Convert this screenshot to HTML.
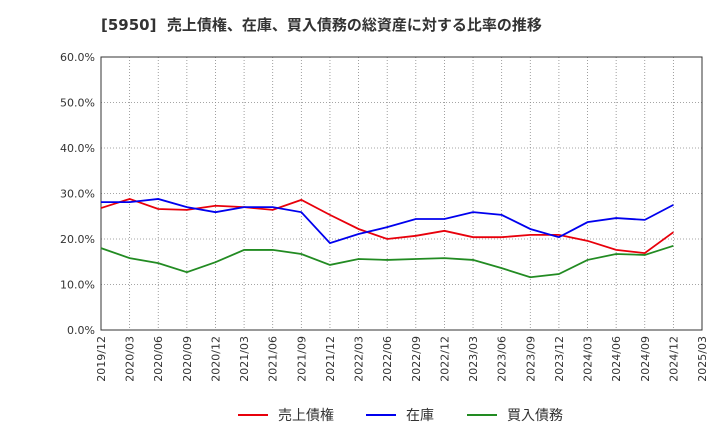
<!DOCTYPE html>
<html><head><meta charset="utf-8">
<style>
body{margin:0;background:#fff;width:720px;height:440px;overflow:hidden;font-family:"DejaVu Sans","Noto Sans CJK JP",sans-serif;}
</style></head>
<body>
<svg id="chart" width="720" height="440" xmlns="http://www.w3.org/2000/svg" font-family="DejaVu Sans, Noto Sans CJK JP, sans-serif">
<text x="101" y="30" font-size="15" font-weight="bold" fill="#333" xml:space="preserve">[5950]  売上債権、在庫、買入債務の総資産に対する比率の推移</text>
<g id="grid"></g>
<g id="axes"></g>
<g id="series"></g>
<g id="legend"></g>
</svg>
<script>
const categories=["2019/12","2020/03","2020/06","2020/09","2020/12","2021/03","2021/06","2021/09","2021/12","2022/03","2022/06","2022/09","2022/12","2023/03","2023/06","2023/09","2023/12","2024/03","2024/06","2024/09","2024/12","2025/03"];
const receivables=[26.8,28.8,26.6,26.4,27.3,27.0,26.4,28.6,25.3,22.2,20.0,20.7,21.8,20.4,20.4,20.9,20.9,19.6,17.6,16.9,21.5];
const inventory=[28.1,28.1,28.8,27.0,25.9,27.0,27.0,25.9,19.1,21.1,22.6,24.4,24.4,25.9,25.3,22.2,20.4,23.7,24.6,24.2,27.5];
const payables=[18.0,15.8,14.7,12.7,14.9,17.6,17.6,16.7,14.3,15.6,15.4,15.6,15.8,15.4,13.6,11.6,12.3,15.4,16.7,16.5,18.5];
const yTicks=[0,10,20,30,40,50,60];
const yTickLabels=["0.0%","10.0%","20.0%","30.0%","40.0%","50.0%","60.0%"];
const seriesNames=["売上債権","在庫","買入債務"];
const seriesColors=["#e8000b","#0000ee","#228b22"];

const L=101,R=702,T=57,B=330,NS="http://www.w3.org/2000/svg";
const xs=i=>L+i*(R-L)/(categories.length-1);
const ys=v=>B-(v/60)*(B-T);
function mk(tag,attrs,parent){const e=document.createElementNS(NS,tag);for(const k in attrs)e.setAttribute(k,attrs[k]);parent.appendChild(e);return e;}
const grid=document.getElementById('grid'),axes=document.getElementById('axes'),ser=document.getElementById('series'),leg=document.getElementById('legend');

mk('rect',{x:L,y:T,width:R-L,height:B-T,fill:'#fff',stroke:'none'},grid);
categories.forEach((c,i)=>{
  const l=mk('line',{x1:xs(i),x2:xs(i),y1:T,y2:B,stroke:'#888','stroke-dasharray':'1,2','stroke-width':0.8},grid);
  
  
  const t=mk('text',{x:0,y:0,transform:`translate(${xs(i)+4},${B+6}) rotate(-90)`,'text-anchor':'end','font-size':11,fill:'#333'},axes);
  t.textContent=c;
  
  
});
yTicks.forEach((v,i)=>{
  const l=mk('line',{x1:L,x2:R,y1:ys(v),y2:ys(v),stroke:'#888','stroke-dasharray':'1,2','stroke-width':0.8},grid);
  
  
  const t=mk('text',{x:L-6,y:ys(v)+4,'text-anchor':'end','font-size':11,fill:'#333'},axes);
  t.textContent=yTickLabels[i];
  
  
});
const frame=mk('rect',{x:L,y:T,width:R-L,height:B-T,fill:'none',stroke:'#333','stroke-width':1},axes);



[receivables,inventory,payables].forEach((d,si)=>{
  const p=mk('polyline',{points:d.map((v,i)=>xs(i)+','+ys(v)).join(' '),fill:'none',stroke:seriesColors[si],'stroke-width':1.8},ser);
  
  
});
const lx=[238,366,467];
seriesNames.forEach((n,i)=>{
  const g=mk('g',{},leg);
  
  
  mk('line',{x1:lx[i],x2:lx[i]+30,y1:415,y2:415,stroke:seriesColors[i],'stroke-width':2},g);
  const t=mk('text',{x:lx[i]+40,y:420,'font-size':14,fill:'#333'},g);
  t.textContent=n;
});
</script>
</body></html>
